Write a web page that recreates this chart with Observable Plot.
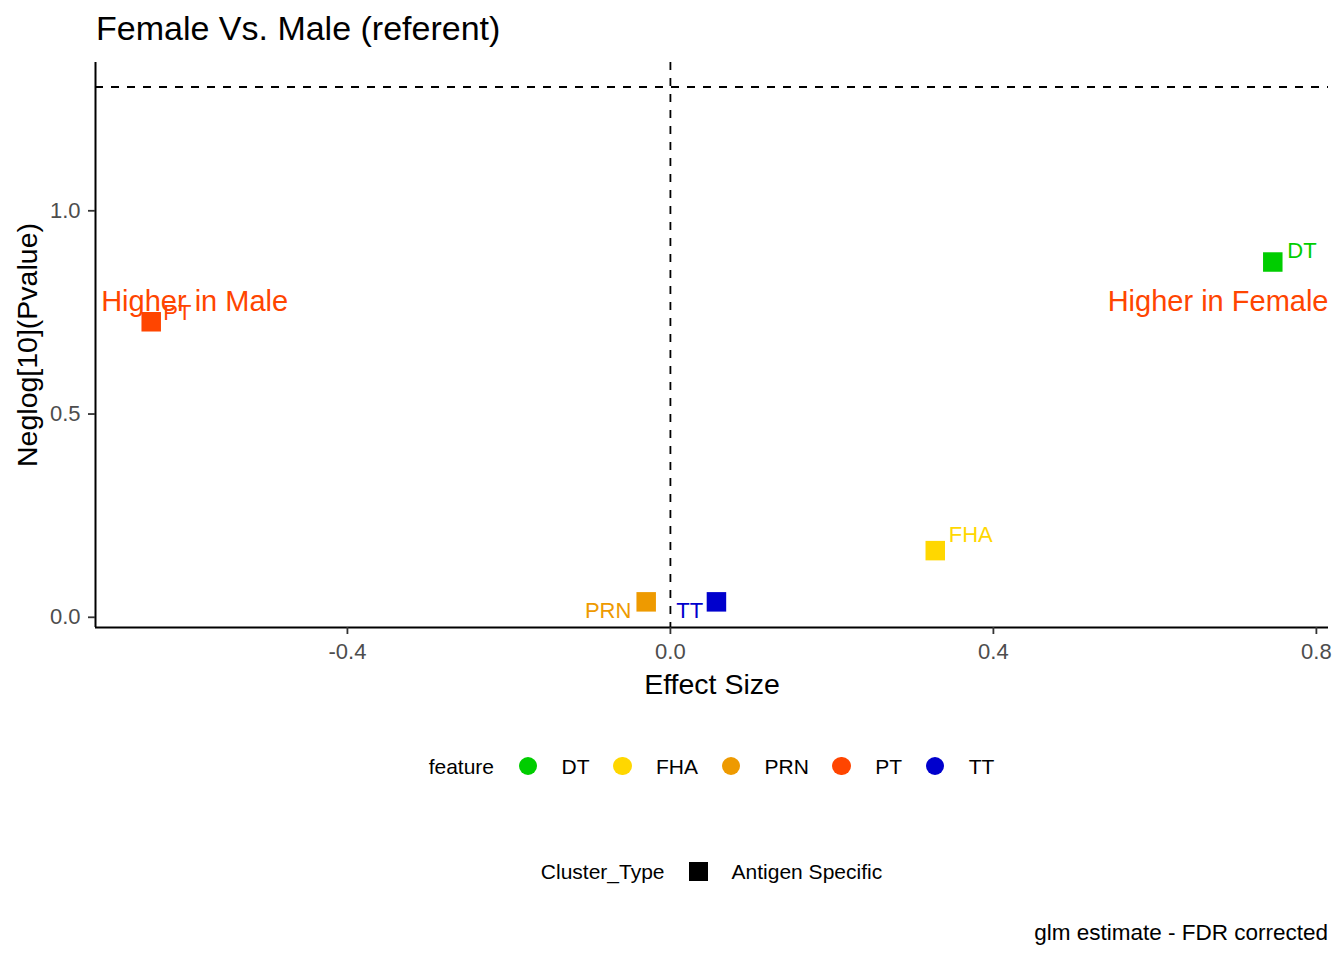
<!DOCTYPE html>
<html>
<head>
<meta charset="utf-8">
<script src="https://cdn.jsdelivr.net/npm/d3@7"></script>
<script src="https://cdn.jsdelivr.net/npm/@observablehq/plot@0.6"></script>
<style>
  body { margin: 0; background: #fff; font-family: "Liberation Sans", Arial, sans-serif; }
  #wrap { position: relative; width: 1344px; height: 960px; overflow: hidden; background: #fff; }
  #title { position: absolute; left: 96px; top: 11px; font-size: 34px; line-height: 1; color: #000; white-space: nowrap; }
  #chart { position: absolute; left: 0; top: 0; }
  .legend-row { position: absolute; left: 95px; width: 1233px; display: flex; justify-content: center; align-items: center; height: 30px; font-size: 21px; line-height: 1; color: #000; white-space: nowrap; }
  .legend-row .ttl { margin-right: 24.5px; }
  .legend-row .key { display: inline-block; margin-right: 24.5px; }
  .legend-row .lab { margin-right: 23.5px; }
  .legend-row .lab:last-child { margin-right: 0; }
  #caption { position: absolute; right: 16px; top: 922px; font-size: 22.5px; line-height: 1; color: #000; white-space: nowrap; }
</style>
</head>
<body>
<div id="wrap">
  <div id="title"></div>
  <div id="chart"></div>
  <div class="legend-row" id="legend-feature" style="top:751px"></div>
  <div class="legend-row" id="legend-cluster" style="top:856px"></div>
  <div id="caption"></div>
</div>
<script>
// ---- data ----
const features = ["DT", "FHA", "PRN", "PT", "TT"];
const featureColors = ["#00CD00", "#FFD700", "#EE9A00", "#FF4500", "#0000CD"];
const effectSize = [0.746, 0.328, -0.030, -0.643, 0.057];
const negLogP = [0.874, 0.164, 0.038, 0.727, 0.038];
const clusterTypes = ["Antigen Specific"];
const clusterOfFeature = ["Antigen Specific", "Antigen Specific", "Antigen Specific", "Antigen Specific", "Antigen Specific"];
const xTicks = [-0.4, 0.0, 0.4, 0.8];
const yTicks = [0.0, 0.5, 1.0];
const xDomain = [-0.712, 0.815];
const yDomain = [-0.0251, 1.3648];
const significanceLine = 1.3045;
const zeroLine = 0;
const annotationText = ["Higher in Male", "Higher in Female"];
const annotationX = [-0.705, 0.815];
const annotationY = [0.777, 0.777];
const annotationColor = "#FF4500";
const titleText = "Female Vs. Male (referent)";
const xLabel = "Effect Size";
const yLabel = "Neglog[10](Pvalue)";
const colorLegendTitle = "feature";
const shapeLegendTitle = "Cluster_Type";
const captionText = "glm estimate - FDR corrected";

// ---- table ----
const table = features.map((f, i) => ({
  feature: f, effect: effectSize[i], nlp: negLogP[i], cluster: clusterOfFeature[i]
}));
const annotations = annotationText.map((t, i) => ({ text: t, x: annotationX[i], y: annotationY[i] }));
const byFeature = f => table.filter(d => d.feature === f);

const FONT = "'Liberation Sans', Arial, sans-serif";
const labelStyle = { x: "effect", y: "nlp", text: "feature", fill: "feature", fontSize: 22, lineAnchor: "middle" };

const plot = Plot.plot({
  width: 1344,
  height: 700,
  marginLeft: 95,
  marginRight: 16,
  marginTop: 62,
  marginBottom: 73,
  style: { fontFamily: FONT, background: "transparent", overflow: "visible" },
  x: { domain: xDomain, nice: false },
  y: { domain: yDomain, nice: false },
  color: { domain: features, range: featureColors },
  marks: [
    Plot.ruleX([zeroLine], { stroke: "black", strokeWidth: 1.8, strokeDasharray: "8,8" }),
    Plot.ruleY([significanceLine], { stroke: "black", strokeWidth: 1.8, strokeDasharray: "8,8" }),
    Plot.dot(table, { x: "effect", y: "nlp", fill: "feature", symbol: "square", r: 11 }),
    Plot.text(byFeature("DT"), { ...labelStyle, textAnchor: "start", dx: 14.5, dy: -10.8 }),
    Plot.text(byFeature("FHA"), { ...labelStyle, textAnchor: "start", dx: 13.5, dy: -15.3 }),
    Plot.text(byFeature("PT"), { ...labelStyle, textAnchor: "start", dx: 12, dy: -9 }),
    Plot.text(byFeature("PRN"), { ...labelStyle, textAnchor: "end", dx: -14.8, dy: 8.7 }),
    Plot.text(byFeature("TT"), { ...labelStyle, textAnchor: "end", dx: -13.3, dy: 8.7 }),
    Plot.text(annotations.slice(0, 1), { x: "x", y: "y", text: "text", fill: annotationColor, fontSize: 29, textAnchor: "start", lineAnchor: "middle" }),
    Plot.text(annotations.slice(1), { x: "x", y: "y", text: "text", fill: annotationColor, fontSize: 29, textAnchor: "end", lineAnchor: "middle" }),
    Plot.ruleX([xDomain[0]], { stroke: "black", strokeWidth: 2 }),
    Plot.ruleY([yDomain[0]], { stroke: "black", strokeWidth: 2 }),
    Plot.axisX({ ticks: xTicks, tickFormat: d => d.toFixed(1), tickSize: 7, tickPadding: 9, fontSize: 22, stroke: "#333333", fill: "#4D4D4D", strokeWidth: 1.8, label: null }),
    Plot.axisY({ ticks: yTicks, tickFormat: d => d.toFixed(1), tickSize: 7, tickPadding: 8, fontSize: 22, stroke: "#333333", fill: "#4D4D4D", strokeWidth: 1.8, label: null }),
    Plot.text([xLabel], { text: d => d, frameAnchor: "bottom", lineAnchor: "middle", dy: 57, fontSize: 28.5, fill: "black" }),
    Plot.text([yLabel], { text: d => d, frameAnchor: "left", textAnchor: "middle", lineAnchor: "middle", rotate: -90, dx: -68, fontSize: 28.5, fill: "black" })
  ]
});
document.getElementById("chart").appendChild(plot);

document.getElementById("title").textContent = titleText;
document.getElementById("caption").textContent = captionText;

// ---- legends ----
const lf = document.getElementById("legend-feature");
const t1 = document.createElement("span"); t1.className = "ttl"; t1.textContent = colorLegendTitle; lf.appendChild(t1);
features.forEach((f, i) => {
  const k = document.createElement("span"); k.className = "key";
  k.style.cssText = `width:18.5px;height:18.5px;border-radius:50%;background:${plot.scale("color").apply(f)}`;
  lf.appendChild(k);
  const l = document.createElement("span"); l.className = "lab"; l.textContent = f; lf.appendChild(l);
});
const lc = document.getElementById("legend-cluster");
const t2 = document.createElement("span"); t2.className = "ttl"; t2.textContent = shapeLegendTitle; t2.style.marginRight = "24px"; lc.appendChild(t2);
clusterTypes.forEach(c => {
  const k = document.createElement("span"); k.className = "key";
  k.style.cssText = "width:19px;height:19px;background:#000;margin-right:24px";
  lc.appendChild(k);
  const l = document.createElement("span"); l.className = "lab"; l.textContent = c; lc.appendChild(l);
});
</script>
</body>
</html>
